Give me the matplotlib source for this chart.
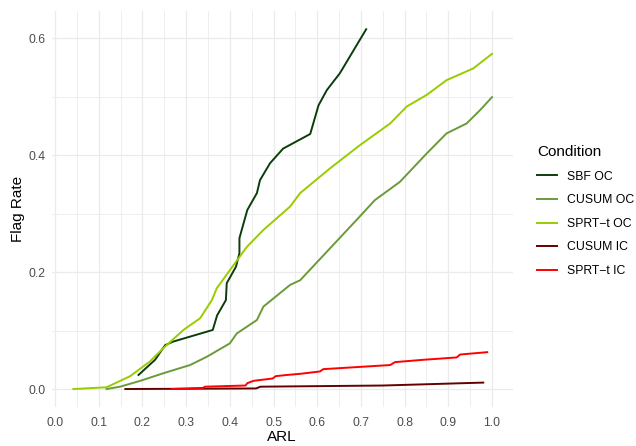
import matplotlib
matplotlib.use("Agg")
import matplotlib.pyplot as plt
from matplotlib.ticker import MultipleLocator

plt.rcParams['font.family'] = ['Liberation Sans', 'DejaVu Sans']

# values (ARL vs flag rate)
sbf_oc_x = [0.191, 0.229, 0.252, 0.270, 0.361, 0.371, 0.391, 0.393, 0.414, 0.422, 0.422,
            0.440, 0.462, 0.469, 0.492, 0.522, 0.584, 0.603, 0.622, 0.652, 0.712]
sbf_oc_y = [0.024, 0.050, 0.075, 0.081, 0.101, 0.126, 0.152, 0.181, 0.209, 0.232, 0.258,
            0.306, 0.335, 0.357, 0.386, 0.411, 0.436, 0.485, 0.511, 0.540, 0.615]

cusum_oc_x = [0.118, 0.149, 0.195, 0.248, 0.309, 0.347, 0.400, 0.416, 0.462, 0.477, 0.538,
              0.561, 0.690, 0.732, 0.789, 0.851, 0.896, 0.942, 0.973, 1.0]
cusum_oc_y = [0.0, 0.004, 0.014, 0.027, 0.041, 0.055, 0.078, 0.095, 0.118, 0.141, 0.178,
              0.186, 0.289, 0.323, 0.354, 0.403, 0.437, 0.454, 0.477, 0.499]

sprt_oc_x = [0.042, 0.118, 0.172, 0.217, 0.248, 0.294, 0.332, 0.359, 0.370, 0.400, 0.439,
             0.477, 0.538, 0.561, 0.629, 0.698, 0.767, 0.805, 0.851, 0.896, 0.957, 1.0]
sprt_oc_y = [0.0, 0.003, 0.022, 0.047, 0.070, 0.101, 0.121, 0.152, 0.172, 0.203, 0.243,
             0.272, 0.312, 0.335, 0.377, 0.417, 0.454, 0.483, 0.503, 0.528, 0.548, 0.573]

cusum_ic_x = [0.161, 0.46, 0.47, 0.75, 0.98]
cusum_ic_y = [0.0, 0.001, 0.004, 0.006, 0.011]

sprt_ic_x = [0.267, 0.339, 0.343, 0.436, 0.440, 0.454, 0.498, 0.505, 0.53, 0.561, 0.606,
             0.614, 0.767, 0.778, 0.843, 0.919, 0.927, 0.989]
sprt_ic_y = [0.0, 0.002, 0.004, 0.006, 0.010, 0.014, 0.018, 0.022, 0.024, 0.026, 0.030,
             0.034, 0.041, 0.046, 0.050, 0.054, 0.059, 0.063]

fig = plt.figure(figsize=(6.36, 4.46), dpi=100)
ax = fig.add_axes([0.081, 0.0874, 0.7256, 0.8874])

ax.plot(sbf_oc_x, sbf_oc_y, color="#0B3D0B", lw=1.4, label="SBF OC")
ax.plot(cusum_oc_x, cusum_oc_y, color="#6A9A3A", lw=1.4, label="CUSUM OC")
ax.plot(sprt_oc_x, sprt_oc_y, color="#99CC00", lw=1.4, label="SPRT\u2212t OC")
ax.plot(cusum_ic_x, cusum_ic_y, color="#660000", lw=1.4, label="CUSUM IC")
ax.plot(sprt_ic_x, sprt_ic_y, color="#FF0000", lw=1.4, label="SPRT\u2212t IC")

ax.set_xlim(-0.008, 1.048)
ax.set_ylim(-0.03075, 0.6458)
ax.xaxis.set_major_locator(MultipleLocator(0.1))
ax.xaxis.set_minor_locator(MultipleLocator(0.05))
ax.yaxis.set_major_locator(MultipleLocator(0.2))
ax.yaxis.set_minor_locator(MultipleLocator(0.1))
ax.set_xticks([i / 10 for i in range(11)])
ax.set_xticklabels(["%.1f" % (i / 10) for i in range(11)])
ax.set_yticklabels(["%.1f" % v for v in ax.get_yticks()])

ax.grid(True, which="major", color="#EBEBEB", lw=0.9)
ax.grid(True, which="minor", color="#EBEBEB", lw=0.6)
ax.set_axisbelow(True)
for s in ax.spines.values():
    s.set_visible(False)
ax.tick_params(which="both", length=0, labelsize=8.8, labelcolor="#4D4D4D")
ax.tick_params(axis="x", pad=7)
ax.tick_params(axis="y", pad=4.5)

ax.set_xlabel("ARL", fontsize=11, labelpad=1)
ax.set_ylabel("Flag Rate", fontsize=11, labelpad=2)

leg = fig.legend(loc="upper left", bbox_to_anchor=(537 / 636, 1 - 145 / 446),
                 frameon=False, title="Condition", fontsize=8.8, title_fontsize=11,
                 handlelength=1.65, handletextpad=0.8, labelspacing=0.95,
                 borderpad=0, borderaxespad=0, alignment="left")

fig.savefig("out.png", dpi=100)
